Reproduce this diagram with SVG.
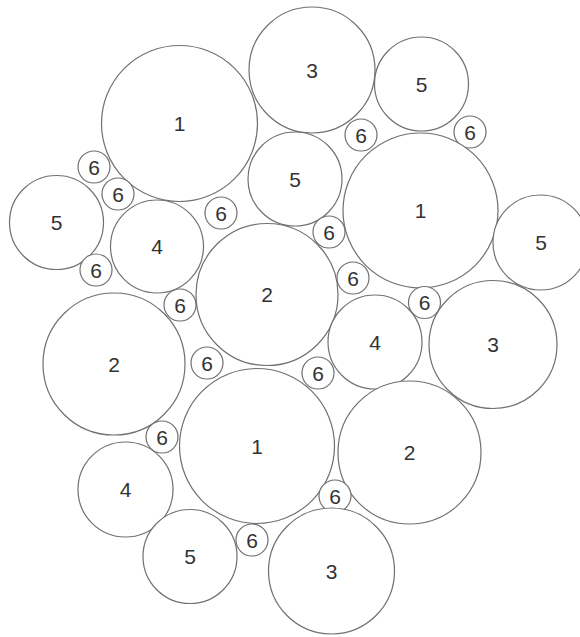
<svg xmlns="http://www.w3.org/2000/svg" width="580" height="637" viewBox="0 0 580 637">
<style>
circle{fill:#fff;stroke:#707070;stroke-width:1.2}
text{font-family:"Liberation Sans",Arial,sans-serif;font-size:21px;fill:#333;text-anchor:middle}
</style>
<rect width="580" height="637" fill="#fff"/>
<g id="connectors"/>
<g id="c1a"><circle cx="179.5" cy="123.5" r="78"/><text x="179.5" y="131">1</text></g>
<g id="c3a"><circle cx="312" cy="70" r="63"/><text x="312" y="77.5">3</text></g>
<g id="c5a"><circle cx="421.5" cy="84" r="47"/><text x="421.5" y="91.5">5</text></g>
<g id="c6a"><circle cx="361" cy="135" r="16"/><text x="361" y="142.5">6</text></g>
<g id="c6b"><circle cx="470" cy="132" r="16"/><text x="470" y="139.5">6</text></g>
<g id="c1b"><circle cx="420.5" cy="210.5" r="77.5"/><text x="420.5" y="218">1</text></g>
<g id="c5b"><circle cx="540.5" cy="242.5" r="47.5"/><text x="541" y="250">5</text></g>
<g id="c5c"><circle cx="295" cy="179" r="47"/><text x="295" y="186.5">5</text></g>
<g id="c6c"><circle cx="329" cy="232" r="16"/><text x="329" y="239.5">6</text></g>
<g id="c6d"><circle cx="353" cy="278" r="16"/><text x="353" y="285.5">6</text></g>
<g id="c6e"><circle cx="424.5" cy="302.5" r="16"/><text x="424.5" y="310">6</text></g>
<g id="c6f"><circle cx="94" cy="167" r="16"/><text x="94" y="174.5">6</text></g>
<g id="c6g"><circle cx="118" cy="194" r="16"/><text x="118" y="201.5">6</text></g>
<g id="c5d"><circle cx="56.5" cy="222.5" r="47"/><text x="56.5" y="230">5</text></g>
<g id="c4a"><circle cx="157" cy="246.5" r="46.5"/><text x="157" y="254">4</text></g>
<g id="c6h"><circle cx="96" cy="270" r="16"/><text x="96" y="277.5">6</text></g>
<g id="c6i"><circle cx="221" cy="213" r="16"/><text x="221" y="220.5">6</text></g>
<g id="c6j"><circle cx="180" cy="305" r="16"/><text x="180" y="312.5">6</text></g>
<g id="c2a"><circle cx="267" cy="294.5" r="71"/><text x="267" y="302">2</text></g>
<g id="c2b"><circle cx="114" cy="364" r="71"/><text x="114" y="371.5">2</text></g>
<g id="c6k"><circle cx="207" cy="363" r="16"/><text x="207" y="370.5">6</text></g>
<g id="c6l"><circle cx="162" cy="437" r="16"/><text x="162" y="444.5">6</text></g>
<g id="c1c"><circle cx="257" cy="446" r="77.5"/><text x="257" y="453.5">1</text></g>
<g id="c4b"><circle cx="125.5" cy="489.5" r="47.5"/><text x="125.5" y="497">4</text></g>
<g id="c5e"><circle cx="190" cy="556.5" r="47"/><text x="190" y="564">5</text></g>
<g id="c6m"><circle cx="252" cy="540" r="16"/><text x="252" y="547.5">6</text></g>
<g id="c4c"><circle cx="375" cy="342" r="47"/><text x="375" y="349.5">4</text></g>
<g id="c3b"><circle cx="493" cy="344.5" r="64"/><text x="493" y="352">3</text></g>
<g id="c6n"><circle cx="318" cy="373" r="16"/><text x="318" y="380.5">6</text></g>
<g id="c2c"><circle cx="409.5" cy="452.5" r="71.5"/><text x="409.5" y="460">2</text></g>
<g id="c6o"><circle cx="335" cy="496" r="16"/><text x="335" y="503.5">6</text></g>
<g id="c3c"><circle cx="331.5" cy="571" r="63"/><text x="331.5" y="578.5">3</text></g>
</svg>
